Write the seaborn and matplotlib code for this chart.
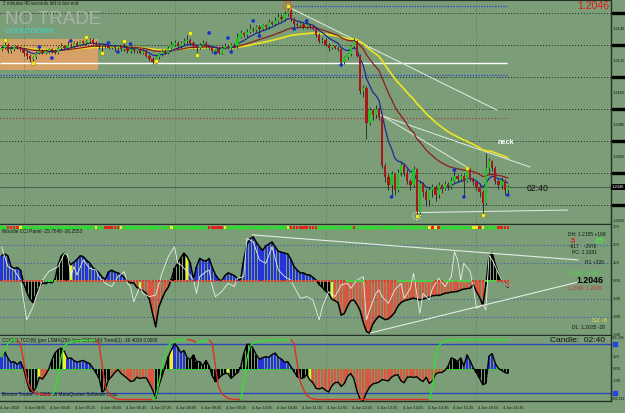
import numpy as np
import pandas as pd
import matplotlib
matplotlib.use("Agg")
import matplotlib.pyplot as plt
import seaborn as sns

sns.set_style("white")
plt.rcParams["font.family"] = ["Liberation Sans", "DejaVu Sans"]

# ---------------- data ----------------
time_bars = [0, 8, 16, 24, 32, 40, 48, 56, 64, 72, 80, 88, 96, 104, 112, 120, 128, 136, 144, 152, 160]
time_labels = ["4 Jun 2010", "4 Jun 04:05", "4 Jun 04:45", "4 Jun 05:25", "4 Jun 06:05", "4 Jun 06:45",
               "4 Jun 07:25", "4 Jun 08:05", "4 Jun 08:45", "4 Jun 09:25", "4 Jun 10:05", "4 Jun 10:45",
               "4 Jun 11:25", "4 Jun 12:05", "4 Jun 12:45", "4 Jun 13:25", "4 Jun 14:05", "4 Jun 14:45",
               "4 Jun 15:25", "4 Jun 16:05", "4 Jun 16:45"]

first_open = 1.2132
close = [
    1.2133, 1.2135, 1.2131, 1.2132, 1.2134, 1.2133, 1.2132, 1.2130, 1.2128, 1.2126,
    1.2127, 1.2130, 1.2131, 1.2130, 1.2131, 1.2132, 1.2131, 1.2130, 1.2133, 1.2134,
    1.2133, 1.2135, 1.2134, 1.2136, 1.2135, 1.2137, 1.2136, 1.2137, 1.2138, 1.2136,
    1.2135, 1.2134, 1.2135, 1.2134, 1.2133, 1.2134, 1.2133, 1.2134, 1.2132, 1.2133,
    1.2131, 1.2132, 1.2131, 1.2132, 1.2130, 1.2131, 1.2128, 1.2126, 1.2124, 1.2127,
    1.2129, 1.2131, 1.2130, 1.2133, 1.2135, 1.2136, 1.2134, 1.2136, 1.2137, 1.2138,
    1.2136, 1.2134, 1.2133, 1.2135, 1.2136, 1.2134, 1.2133, 1.2131, 1.2132, 1.2130,
    1.2133, 1.2134, 1.2133, 1.2135, 1.2134, 1.2140, 1.2142, 1.2141, 1.2143, 1.2145,
    1.2144, 1.2146, 1.2145, 1.2147, 1.2146, 1.2149, 1.2148, 1.2150, 1.2152, 1.2151,
    1.2154, 1.2156, 1.2151, 1.2148, 1.2147, 1.2148, 1.2146, 1.2147, 1.2146, 1.2145,
    1.2141, 1.2137, 1.2138, 1.2135, 1.2133, 1.2134, 1.2133, 1.2132, 1.2124, 1.2127,
    1.2129, 1.2134, 1.2137, 1.2128, 1.2106, 1.2108, 1.2086, 1.2094, 1.2091, 1.2095,
    1.2090, 1.2059, 1.2052, 1.2047, 1.2054, 1.2044, 1.2055, 1.2060, 1.2055, 1.2050,
    1.2047, 1.2057, 1.2030, 1.2048, 1.2043, 1.2038, 1.2044, 1.2046, 1.2041, 1.2047,
    1.2045, 1.2048, 1.2046, 1.2050, 1.2053, 1.2051, 1.2053, 1.2050, 1.2057, 1.2051,
    1.2049, 1.2046, 1.2043, 1.2036, 1.2058, 1.2062, 1.2058, 1.2050, 1.2047, 1.2050,
    1.2044, 1.2046]
high = [
    1.2135, 1.2138, 1.2136, 1.2134, 1.2135, 1.2135, 1.2134, 1.2133, 1.2131, 1.2129,
    1.2128, 1.2131, 1.2133, 1.2132, 1.2132, 1.2133, 1.2133, 1.2132, 1.2134, 1.2136,
    1.2135, 1.2137, 1.2136, 1.2137, 1.2137, 1.2138, 1.2138, 1.2140, 1.2139, 1.2139,
    1.2137, 1.2136, 1.2136, 1.2136, 1.2135, 1.2135, 1.2135, 1.2135, 1.2135, 1.2136,
    1.2134, 1.2134, 1.2133, 1.2133, 1.2133, 1.2132, 1.2132, 1.2129, 1.2127, 1.2128,
    1.2130, 1.2132, 1.2132, 1.2134, 1.2137, 1.2138, 1.2137, 1.2137, 1.2139, 1.2141,
    1.2139, 1.2137, 1.2135, 1.2136, 1.2138, 1.2137, 1.2135, 1.2134, 1.2133, 1.2133,
    1.2134, 1.2136, 1.2135, 1.2136, 1.2136, 1.2142, 1.2144, 1.2143, 1.2145, 1.2148,
    1.2146, 1.2147, 1.2147, 1.2148, 1.2148, 1.2151, 1.2150, 1.2152, 1.2155, 1.2154,
    1.2156, 1.2159, 1.2157, 1.2152, 1.2149, 1.2149, 1.2149, 1.2150, 1.2148, 1.2147,
    1.2146, 1.2142, 1.2140, 1.2139, 1.2136, 1.2135, 1.2135, 1.2134, 1.2133, 1.2128,
    1.2130, 1.2135, 1.2139, 1.2138, 1.2129, 1.2110, 1.2109, 1.2096, 1.2095, 1.2097,
    1.2096, 1.2091, 1.2061, 1.2054, 1.2056, 1.2055, 1.2057, 1.2062, 1.2061, 1.2057,
    1.2051, 1.2059, 1.2058, 1.2050, 1.2049, 1.2045, 1.2046, 1.2048, 1.2047, 1.2049,
    1.2048, 1.2050, 1.2049, 1.2052, 1.2057, 1.2054, 1.2054, 1.2054, 1.2058, 1.2058,
    1.2052, 1.2050, 1.2047, 1.2044, 1.2067, 1.2064, 1.2063, 1.2059, 1.2051, 1.2052,
    1.2051, 1.2047]
low = [
    1.2131, 1.2132, 1.2130, 1.2130, 1.2131, 1.2132, 1.2131, 1.2128, 1.2126, 1.2124,
    1.2124, 1.2126, 1.2129, 1.2129, 1.2129, 1.2130, 1.2130, 1.2129, 1.2129, 1.2132,
    1.2132, 1.2132, 1.2133, 1.2133, 1.2134, 1.2134, 1.2135, 1.2135, 1.2136, 1.2135,
    1.2134, 1.2132, 1.2130, 1.2133, 1.2132, 1.2132, 1.2131, 1.2132, 1.2131, 1.2131,
    1.2130, 1.2130, 1.2130, 1.2130, 1.2129, 1.2129, 1.2127, 1.2125, 1.2123, 1.2123,
    1.2126, 1.2128, 1.2129, 1.2129, 1.2132, 1.2134, 1.2133, 1.2133, 1.2135, 1.2136,
    1.2135, 1.2133, 1.2130, 1.2132, 1.2134, 1.2133, 1.2132, 1.2130, 1.2130, 1.2129,
    1.2129, 1.2132, 1.2132, 1.2132, 1.2133, 1.2133, 1.2139, 1.2140, 1.2140, 1.2142,
    1.2143, 1.2143, 1.2141, 1.2144, 1.2145, 1.2145, 1.2147, 1.2147, 1.2149, 1.2150,
    1.2150, 1.2153, 1.2150, 1.2146, 1.2146, 1.2146, 1.2145, 1.2145, 1.2145, 1.2144,
    1.2140, 1.2136, 1.2136, 1.2134, 1.2131, 1.2132, 1.2132, 1.2131, 1.2122, 1.2123,
    1.2126, 1.2128, 1.2133, 1.2127, 1.2104, 1.2102, 1.2076, 1.2085, 1.2088, 1.2089,
    1.2088, 1.2058, 1.2049, 1.2044, 1.2040, 1.2041, 1.2043, 1.2053, 1.2053, 1.2048,
    1.2044, 1.2046, 1.2027, 1.2029, 1.2040, 1.2034, 1.2034, 1.2040, 1.2037, 1.2039,
    1.2042, 1.2044, 1.2044, 1.2045, 1.2049, 1.2049, 1.2050, 1.2040, 1.2049, 1.2050,
    1.2047, 1.2044, 1.2040, 1.2028, 1.2035, 1.2055, 1.2056, 1.2048, 1.2045, 1.2045,
    1.2041, 1.2042]

blue_dot_bar = [12, 16, 22, 34, 37, 41, 66, 68, 72, 73, 80, 82, 93, 97, 108, 124, 144, 147, 161]
blue_dot_price = [1.21335, 1.21266, 1.21373, 1.2136, 1.21304, 1.21354, 1.21423, 1.21298, 1.21391, 1.21304,
                  1.21498, 1.21404, 1.21448, 1.21498, 1.21223, 1.20398, 1.20566, 1.20398, 1.2041]
yellow_dot_bar = [1, 10, 27, 32, 39, 49, 60, 62, 91, 132, 148, 153]
yellow_dot_price = [1.21379, 1.21235, 1.21398, 1.21298, 1.21373, 1.21248, 1.21423, 1.21285,
                    1.21591, 1.20279, 1.20579, 1.20285]

box_bars = [-0.5, 30.7]
box_prices = [1.21191, 1.21385]
grid_prices = [1.2155, 1.2135, 1.2115, 1.2095, 1.2075, 1.2055, 1.2035]
grid_bars = [7, 55, 103, 151]
axis_prices = [1.2145, 1.2125, 1.2105, 1.2085, 1.2065, 1.2025]
last_price = 1.2046
white_level = 1.21235
blue_level = 1.2116
red_level = 1.20891
top_level = 1.21591
levels_end = 160.7
trend_main = [[91.7, 1.2158, 157.6, 1.2094],
              [120.3, 1.2091, 168.0, 1.20585],
              [121.5, 1.2090, 148.3, 1.2058],
              [132.3, 1.2030, 180.1, 1.20316]]

cci = [
    140, 150, 140, 80, 70, 75, 60, -10, -60, -100,
    -120, -70, -30, -10, -15, -5, -10, 10, 90, 140,
    155, 120, 90, 105, 120, 140, 135, 115, 100, 75,
    60, 45, 20, 10, 50, 60, 50, 45, 35, 20,
    0, -10, -10, -35, -45, -55, -70, -100, -180, -255,
    -145, -100, -60, -35, 10, 70, 100, 130, 155, 135,
    100, 10, 80, 125, 115, 110, 125, 75, 35, 10,
    0, 30, 45, 38, 30, 15, 5, 120, 200, 235,
    245, 215, 190, 170, 195, 205, 217, 190, 165, 160,
    155, 150, 120, 80, 60, 45, 45, 35, 33, 20,
    5, -20, -35, -55, -70, -100, -110, -120, -190, -180,
    -140, -110, -105, -130, -165, -230, -280, -290, -240, -215,
    -195, -205, -215, -210, -195, -175, -140, -120, -110, -105,
    -100, -95, -100, -105, -100, -95, -90, -82, -80, -80,
    -75, -68, -66, -62, -60, -58, -50, -45, -42, -40,
    -20, -60, -90, -135, -20, 140, 155, 90, 40, 0,
    -10, -35]
cci_colors = ("b" * 7 + "k" * 6 + "y" + "b" * 4 + "k" * 4 + "y" + "b" * 17 + "r" * 4 + "y" + "r" * 9 +
              "k" * 5 + "y" + "b" * 40 + "k" * 5 + "y" + "r" * 48 + "k" * 5 + "r" * 3)
turbo_bar = [0, 2, 4, 6, 8, 10, 11, 13, 15, 18, 20, 21, 22, 23, 24, 26, 28, 30, 31, 33,
             35, 37, 39, 40, 41, 42, 44, 45, 47, 49, 51, 53, 55, 56, 57, 59, 61, 62, 63, 65,
             66, 67, 68, 70, 72, 74, 75, 77, 78, 80, 82, 84, 86, 88, 90, 92, 93, 95, 97, 99,
             101, 102, 104, 106, 108, 110, 111, 113, 115, 116, 117, 119, 120, 121, 123, 125, 127, 128, 130, 131,
             133, 134, 136, 137, 139, 141, 143, 144, 145, 146, 147, 149, 150, 151, 153, 154, 155, 156, 158, 159,
             161]
turbo_val = [190, 80, 61, 5, -217, -143, -87, 5, 52, 80, 154, 144, 24, 80, 33, 117, 70, 61, 24, -13,
             -31, 24, 52, -13, -31, -115, -31, -69, -87, -78, 43, 135, 190, 98, 89, 52, 5, -69, 24, 52,
             61, -31, -87, -59, -13, -31, 15, 24, 237, 218, 117, 98, 190, 61, 24, 5, -31, -96, -87, -105,
             -217, -143, -59, -87, -22, -13, -41, 5, 24, -217, -161, -69, -50, -87, -124, -50, -13, -96, -41, 43,
             -180, -69, -105, -41, 15, -31, 24, 163, 117, 5, 98, 52, -31, -152, -133, -161, 144, 117, 43, 5,
             -31]
zero_green_ranges = [(14, 17), (110, 115), (126, 137), (141, 149), (154, 157)]
status_red = [2, 3, 4, 5, 33, 34, 35, 36, 37, 66, 67, 68, 69, 70, 92, 93, 94, 95, 96, 97, 98, 99, 100,
              112, 137, 139, 152, 158, 159, 160, 161]
status_yellow = [6, 30, 38, 54, 71, 91, 136, 138, 150, 151, 153]
cci_lines = [[79.7, 256, 183.3, 117], [117.2, -289, 183.3, -6]]

bot_val = [
    90, 135, 85, 50, 55, 32, 56, 0, -100, -180,
    -192, -150, -70, -85, -50, -5, 70, 125, 152, 165,
    135, 80, 85, 65, 50, 60, 65, 50, 40, 5,
    -35, -80, -190, -168, -90, -65, -32, -8, -40, -60,
    -80, -105, -100, -70, -80, -75, -75, -120, -170, -240,
    -140, -64, 16, 96, 150, 200, 170, 128, 145, 88,
    72, 110, 55, 56, 20, 65, 20, -60, -105, -80,
    -55, -40, -40, -80, -55, -35, 10, 120, 195, 195,
    160, 110, 75, 88, 95, 90, 112, 125, 90, 75,
    50, 55, 15, -25, -65, -80, -75, -50, -90, -115,
    -160, -165, -155, -175, -190, -140, -115, -110, -145, -120,
    -64, -40, -80, -180, -248, -258, -195, -150, -125, -118,
    -110, -90, -95, -100, -70, -55, -50, -100, -115, -70,
    -68, -72, -66, -90, -105, -70, -120, -100, -45, -32,
    -32, -15, 20, 85, 75, 55, 85, 20, 110, 60,
    5, -35, -80, -130, -120, 100, 120, 40, 0, -15,
    -32, -40]
bot_colors = ("b" * 7 + "k" * 5 + "y" + "r" * 3 + "k" * 4 + "y" + "b" * 8 + "k" * 6 + "r" * 14 + "k" * 5 +
              "y" + "b" * 4 + "k" * 8 + "k" * 5 + "y" + "k" * 4 + "k" * 5 + "b" * 11 + "k" * 5 + "y" +
              "r" * 43 + "k" * 5 + "b" * 3 + "k" * 5 + "b" * 3 + "k" * 4)
trend_val = [
    90, 150, 200, 225, 230, 232, 200, 60, -80, -150,
    -185, -200, -205, -208, -210, -210, -212, -180, -60, 100,
    180, 205, 215, 220, 222, 224, 225, 226, 227, 228,
    228, 200, 20, -150, -200, -225, -240, -248, -250, -250,
    -250, -250, -250, -250, -250, -250, -250, -250, -250, -230,
    -120, 20, 120, 180, 210, 222, 228, 230, 231, 232,
    230, 222, 212, 215, 220, 226, 230, 200, 20, -150,
    -200, -225, -240, -245, -248, -250, -250, -120, 80, 180,
    205, 215, 220, 224, 226, 228, 229, 230, 231, 232,
    232, 232, 232, 200, 40, -110, -170, -215, -235, -245,
    -250, -250, -250, -250, -250, -250, -250, -250, -250, -250,
    -250, -250, -250, -250, -250, -250, -250, -250, -250, -250,
    -250, -250, -250, -250, -250, -250, -250, -250, -250, -250,
    -250, -250, -250, -250, -250, -250, -250, -150, 100, 180,
    210, 222, 226, 228, 230, 231, 232, 232, 232, 232,
    232, 232, 232, 232, 232, 232, 232, 232, 232, 232,
    232, 232]
trend_phase = ("g" * 6 + "r" * 11 + "g" * 14 + "r" * 18 + "g" * 11 + "r" * 3 + "g" * 4 + "r" * 10 +
               "g" * 16 + "r" * 44 + "g" * 25)
bot_levels = [200, -200]

# ---------------- style ----------------
BG = "#7b9e78"
W, H = 625, 413
PXB = 3.145
XMAX = 611 / PXB - 0.5
HIST = {"b": "#2434d8", "k": "#000000", "r": "#d9563f", "y": "#f2f21a"}

fig = plt.figure(figsize=(W / 100, H / 100), dpi=100, facecolor=BG)


def px_axes(top, bottom):
    a = fig.add_axes([0, 1 - bottom / H, 611 / W, (bottom - top) / H])
    a.set_facecolor(BG)
    a.set_xlim(-0.5, XMAX)
    for sp in ["left", "top"]:
        a.spines[sp].set_visible(False)
    for sp in ["right", "bottom"]:
        a.spines[sp].set_color("#243024")
        a.spines[sp].set_linewidth(1.0)
    a.yaxis.tick_right()
    a.tick_params(axis="y", length=0, pad=1, labelsize=3.0, labelcolor="#101810")
    a.tick_params(axis="x", length=0, labelbottom=False)
    return a


ax_m = px_axes(0, 224)
ax_c = px_axes(225, 335)
ax_b = px_axes(336, 401)

N = len(close)
bars = np.arange(N)
c_arr = np.array(close)
o_arr = np.array([first_open] + close[:-1])
h_arr = np.array(high)
l_arr = np.array(low)

# ---------------- main panel ----------------
ax_m.set_ylim(1.2046 - 37 * 0.0000625, 1.2046 + 187 * 0.0000625)
ax_c.set_ylim(-300, 311)
ax_b.set_ylim(-262, 262)
ax_m.spines["top"].set_visible(True)
ax_m.spines["top"].set_color("#243024")
ax_m.fill_between(box_bars, box_prices[0], box_prices[1], color="#dba266", alpha=0.95, lw=0, zorder=0.5)
ax_m.hlines(grid_prices, -0.5, XMAX, colors="#1a241a", linestyles=(0, (1, 2)), lw=0.7, zorder=0.6)
for a in (ax_m, ax_c, ax_b):
    lo, hi = a.get_ylim()
    a.vlines(grid_bars, lo, hi, colors="#55705a", linestyles=(0, (1, 2)), lw=0.6, zorder=0.6)
ax_m.hlines(white_level, -0.5, levels_end, colors="white", lw=1.0, zorder=1)
ax_m.hlines(blue_level, -0.5, levels_end, colors="#3050c8", linestyles=(0, (1, 1)), lw=1.0, zorder=1)
ax_m.hlines(red_level, -0.5, levels_end, colors="#a0402a", linestyles=(0, (1, 1.5)), lw=0.9, zorder=1)
ax_m.hlines(top_level, 91.5, levels_end, colors="#3050c8", linestyles=(0, (1, 1)), lw=1.0, zorder=1)
ax_m.hlines(last_price, -0.5, XMAX, colors="#506050", lw=0.8, zorder=1)

for x0, y0, x1, y1 in trend_main:
    sns.lineplot(x=[x0, x1], y=[y0, y1], ax=ax_m, color="#e4ece4", lw=0.7, zorder=2)

s = pd.Series(close)
ema_fast = s.ewm(span=8, adjust=False).mean()
ema_mid = s.ewm(span=25, adjust=False).mean()
ema_slow = s.ewm(span=50, adjust=False).mean()
sns.lineplot(x=bars, y=ema_slow, ax=ax_m, color="#e8e226", lw=1.3, zorder=2)
sns.lineplot(x=bars, y=ema_mid, ax=ax_m, color="#8e1c1c", lw=0.9, zorder=2.2)
sns.lineplot(x=bars, y=ema_fast, ax=ax_m, color="#1c2a98", lw=0.9, zorder=2.4)

bull = c_arr >= o_arr
ccol = np.where(bull, "#22c222", "#a8181a")
ax_m.vlines(bars, l_arr, h_arr, colors="#1c281c", lw=0.6, zorder=3)
body_lo = np.minimum(o_arr, c_arr)
body_h = np.maximum(np.abs(c_arr - o_arr), 0.00004)
ax_m.bar(bars, body_h, bottom=body_lo, width=0.72, color=ccol, edgecolor="none", zorder=3.2)

sns.scatterplot(x=blue_dot_bar, y=blue_dot_price, ax=ax_m, color="#1434c8", s=7, edgecolor="none", zorder=4)
sns.scatterplot(x=yellow_dot_bar, y=yellow_dot_price, ax=ax_m, color="#f4f020", s=9, edgecolor="#707020",
                linewidth=0.3, zorder=4)
ax_m.scatter([yellow_dot_bar[8]], [yellow_dot_price[8]], s=38, facecolors="none", edgecolors="#e0602a",
             linewidths=0.9, zorder=4.2)
ax_m.scatter([yellow_dot_bar[9]], [yellow_dot_price[9]], s=30, facecolors="none", edgecolors="#f0f0f0",
             linewidths=0.8, zorder=4.2, linestyle=":")

ax_m.set_yticks(axis_prices)
ax_m.set_yticklabels([f"{p:.4f}" for p in axis_prices])
ax_m.hlines(grid_prices, XMAX, XMAX + 14 / PXB, colors="black", lw=2.4, clip_on=False)
ax_m.text(XMAX + 0.3, last_price, f"{last_price:.4f}", fontsize=3.0, color="white", va="center", ha="left",
          clip_on=False, bbox=dict(boxstyle="square,pad=0.15", fc="black", ec="none"), zorder=6)

ax_m.text(157.6, 1.20735, "neck", fontsize=5.2, color="white", fontweight="bold", va="center", ha="left", zorder=6)
ax_m.text(166.8, 1.20448, "02:40", fontsize=6.3, color="#101010", va="center", ha="left", zorder=6)

fig.text(3 / W, 1 - 1 / H, "2 minutes 40 seconds left to bar end", fontsize=3.3, color="#142014", va="top", ha="left")
fig.text(5 / W, 1 - 11 / H, "NO TRADE", fontsize=13.5, color="#a9b1a9", va="top", ha="left")
fig.text(5 / W, 1 - 28 / H, "COUNTDOWN -", fontsize=5.2, color="#3ed8d0", va="top", ha="left")
fig.text(609 / W, 1 - 1 / H, f"{last_price:.4f}", fontsize=7.6, color="#e01818", va="top", ha="right")

# ---------------- CCI panel ----------------
ax_c.hlines([200, 100, -100, -200], -0.5, XMAX, colors="#3858b0", linestyles=(0, (1, 2)), lw=0.8, zorder=0.7)
ax_c.bar(bars, cci, width=0.72, color=[HIST[k] for k in cci_colors], edgecolor="none", zorder=2)
sns.lineplot(x=bars, y=cci, ax=ax_c, color="black", lw=1.1, zorder=3)
sns.lineplot(x=turbo_bar, y=turbo_val, ax=ax_c, color="#e8efe8", lw=0.6, zorder=3.5)
zc = []
for i in bars:
    g = any(a0 <= i <= b0 for a0, b0 in zero_green_ranges)
    zc.append("#38e038" if g else "#e03a2a")
ax_c.scatter(bars, np.zeros(N), marker="s", s=2.2, c=zc, linewidths=0, zorder=4)
for x0, y0, x1, y1 in cci_lines:
    sns.lineplot(x=[x0, x1], y=[y0, y1], ax=ax_c, color="#e4ece4", lw=0.8, zorder=3.6)
ax_c.hlines(294, -0.5, N - 0.5, colors="#28d828", lw=1.0, zorder=2)
sc = ["#e82020" if i in status_red else ("#f0f020" if i in status_yellow else "#28e028") for i in bars]
ax_c.scatter(bars, np.full(N, 296), marker="s", s=3.2, c=sc, linewidths=0, zorder=4)
ax_c.set_yticks([300, 200, 100, 0, -100, -200, -300])
ax_c.set_yticklabels(["300", "200", "100", "0.00", "-100", "-200", "-300"])
ax_c.text(0.003, 0.945, "Woodie CCI Panel -25.7649 -26.2553", transform=ax_c.transAxes, fontsize=3.4,
          color="#101810", va="center", ha="left")
info = [(180.1, 261, "DH: 1.2155 +169", "#101810", 3.6, "normal"),
        (180.7, 217, "-5", "#e02020", 5.0, "bold"),
        (188.4, 217, "-25", "#40f040", 5.0, "bold"),
        (180.3, 192, "-617    -2976", "#101810", 3.4, "normal"),
        (181.4, 156, "PC: 1.2081", "#101810", 3.6, "normal"),
        (185.5, 100, "R1 +326", "#101810", 3.6, "normal"),
        (180.1, 44, "1.2060  1.2053", "#40e040", 3.6, "normal"),
        (182.8, 0, "1.2046", "#000000", 6.3, "bold"),
        (180.1, -39, "1.2040  1.2039", "#d03030", 3.6, "normal"),
        (187.7, -217, "S2 -8", "#e4e440", 4.5, "normal"),
        (181.4, -261, "DL: 1.2035 -28", "#101810", 3.6, "normal")]
for x, y, t, col, fs, fw in info:
    ax_c.text(x, y, t, fontsize=fs, color=col, fontweight=fw, va="center", ha="left", zorder=6)

# ---------------- bottom panel ----------------
ax_b.hlines(bot_levels, -0.5, XMAX, colors="#2a48b4", lw=1.0, zorder=0.8)
ax_b.hlines(0, -0.5, N - 0.5, colors="#38c838", lw=0.8, zorder=0.9)
ax_b.bar(bars, bot_val, width=0.72, color=[HIST[k] for k in bot_colors], edgecolor="none", zorder=2)
sns.lineplot(x=bars, y=bot_val, ax=ax_b, color="black", lw=1.0, zorder=3)
start = 0
for i in range(1, N + 1):
    if i == N or trend_phase[i] != trend_phase[start]:
        a0 = max(start - 1, 0)
        col = "#30e030" if trend_phase[start] == "g" else "#e02e20"
        sns.lineplot(x=bars[a0:i], y=trend_val[a0:i], ax=ax_b, color=col, lw=1.0, zorder=3.5)
        start = i
ax_b.scatter([XMAX + 1.4] * 2, bot_levels, marker="s", s=9, color="#2444e0", clip_on=False, zorder=6)
ax_b.set_yticks([100, 0, -100])
ax_b.set_yticklabels(["100", "0.00", "-100"])
ax_b.text(XMAX + 0.2, 258, "261.295", fontsize=2.5, color="#101810", va="top", ha="left", clip_on=False)
ax_b.text(XMAX + 0.2, -258, "-261.613", fontsize=2.4, color="#101810", va="bottom", ha="left", clip_on=False)
ax_b.text(0.003, 0.93, "CCI(14) TCCI(6) (per LSMA(25)) (per EMA(34)) Trend(1) -36.4028 0.0000",
          transform=ax_b.transAxes, fontsize=3.4, color="#101810", va="center", ha="left")
ax_b.text(0.003, 0.10, "Bronco Trader, \u00a9 2005-06 MetaQuotes Software Corp.", transform=ax_b.transAxes,
          fontsize=3.4, color="#101810", va="center", ha="left")
ax_b.text(191.9, 222, "Candle:  02:40", fontsize=6.0, color="#101010", va="center", ha="right", zorder=6)

ax_b.set_xticks([b - 0.5 for b in time_bars])
ax_b.set_xticklabels(time_labels)
ax_b.tick_params(axis="x", length=2, width=0.5, color="#101810", pad=1.5, labelsize=2.8,
                 labelcolor="#101810", labelbottom=True, direction="out")
for lab in ax_b.get_xticklabels():
    lab.set_horizontalalignment("left")

for a in (ax_m, ax_c, ax_b):
    a.set_xlabel("")
    a.set_ylabel("")

fig.savefig("out.png", dpi=100, facecolor=BG)
